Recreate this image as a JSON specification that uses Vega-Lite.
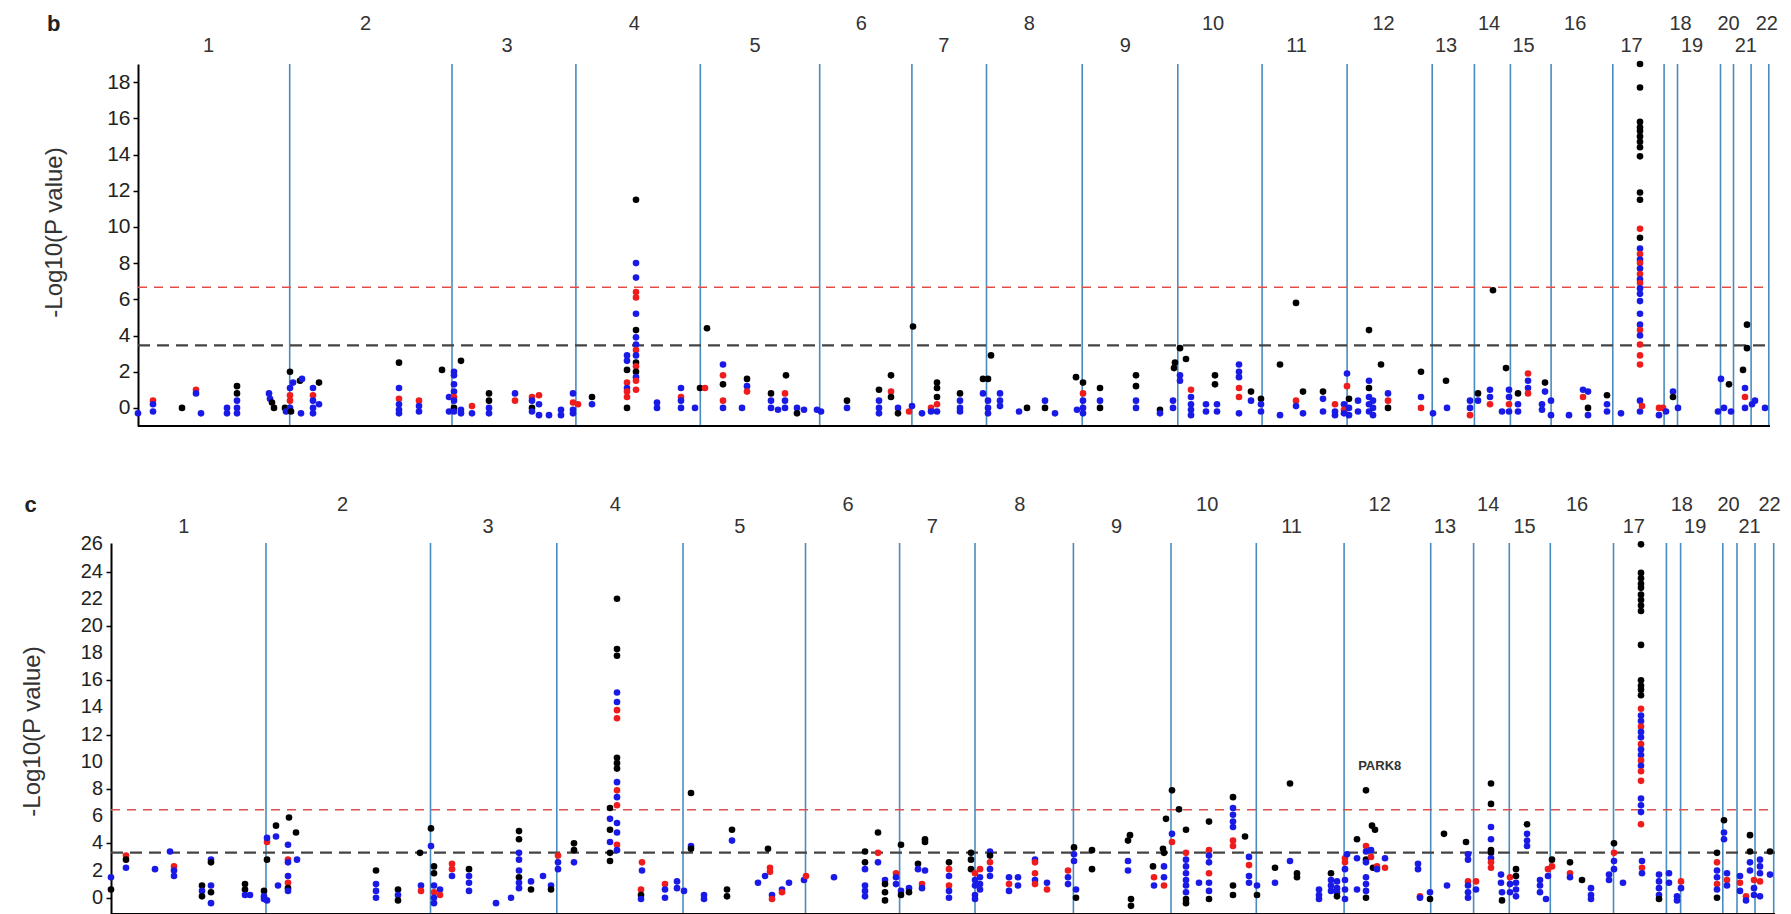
{
  "$schema": "https://vega.github.io/schema/vega-lite/v6.json",
  "background": "white",
  "padding": {"left": 20, "top": 13, "right": 0, "bottom": 0},
  "spacing": 66,
  "config": {"view": {"stroke": null}, "font": "Liberation Sans", "axis": {"grid": false}},
  "resolve": {"scale": {"x": "independent", "y": "independent"}},
  "datasets": {
    "one": [{}],
    "ticksC": [{"v":0},{"v":2},{"v":4},{"v":6},{"v":8},{"v":10},{"v":12},{"v":14},{"v":16},{"v":18},{"v":20},{"v":22},{"v":24},{"v":26}],
    "linesB": [{"pos":289.7},{"pos":452},{"pos":575.9},{"pos":700.3},{"pos":819.7},{"pos":911.9},{"pos":986.5},{"pos":1082.2},{"pos":1177.8},{"pos":1262.1},{"pos":1347.1},{"pos":1432.2},{"pos":1474.4},{"pos":1510.4},{"pos":1551.1},{"pos":1612.8},{"pos":1664.1},{"pos":1677.5},{"pos":1720.5},{"pos":1733.5},{"pos":1751.1},{"pos":1768.8}],
    "linesC": [{"pos":266},{"pos":430.5},{"pos":556.8},{"pos":683},{"pos":805.5},{"pos":899.6},{"pos":975},{"pos":1073.4},{"pos":1171},{"pos":1256.3},{"pos":1344.1},{"pos":1430.7},{"pos":1473.6},{"pos":1509.3},{"pos":1550.3},{"pos":1613.5},{"pos":1666.4},{"pos":1680.6},{"pos":1722.8},{"pos":1737},{"pos":1755},{"pos":1773.7}],
    "labB": [{"chr":"1","pos":208.6,"tier":"lower"},{"chr":"2","pos":365.5,"tier":"upper"},{"chr":"3","pos":507,"tier":"lower"},{"chr":"4","pos":634.4,"tier":"upper"},{"chr":"5","pos":755,"tier":"lower"},{"chr":"6","pos":861.4,"tier":"upper"},{"chr":"7","pos":943.7,"tier":"lower"},{"chr":"8","pos":1029.4,"tier":"upper"},{"chr":"9","pos":1125.4,"tier":"lower"},{"chr":"10","pos":1213,"tier":"upper"},{"chr":"11","pos":1296.6,"tier":"lower"},{"chr":"12","pos":1383.6,"tier":"upper"},{"chr":"13","pos":1446,"tier":"lower"},{"chr":"14","pos":1489,"tier":"upper"},{"chr":"15","pos":1523.5,"tier":"lower"},{"chr":"16","pos":1575.2,"tier":"upper"},{"chr":"17","pos":1631.5,"tier":"lower"},{"chr":"18","pos":1680.6,"tier":"upper"},{"chr":"19","pos":1692.1,"tier":"lower"},{"chr":"20","pos":1728.5,"tier":"upper"},{"chr":"21","pos":1745.8,"tier":"lower"},{"chr":"22","pos":1766.8,"tier":"upper"}],
    "labC": [{"chr":"1","pos":183.7,"tier":"lower"},{"chr":"2","pos":342.5,"tier":"upper"},{"chr":"3","pos":488,"tier":"lower"},{"chr":"4","pos":615.3,"tier":"upper"},{"chr":"5","pos":739.7,"tier":"lower"},{"chr":"6","pos":848,"tier":"upper"},{"chr":"7","pos":932.2,"tier":"lower"},{"chr":"8","pos":1019.8,"tier":"upper"},{"chr":"9","pos":1116.6,"tier":"lower"},{"chr":"10","pos":1207.2,"tier":"upper"},{"chr":"11","pos":1291.6,"tier":"lower"},{"chr":"12","pos":1379.7,"tier":"upper"},{"chr":"13","pos":1444.9,"tier":"lower"},{"chr":"14","pos":1488.2,"tier":"upper"},{"chr":"15","pos":1524.6,"tier":"lower"},{"chr":"16","pos":1577.1,"tier":"upper"},{"chr":"17","pos":1633.8,"tier":"lower"},{"chr":"18","pos":1681.8,"tier":"upper"},{"chr":"19","pos":1695.2,"tier":"lower"},{"chr":"20","pos":1728.5,"tier":"upper"},{"chr":"21","pos":1749.6,"tier":"lower"},{"chr":"22","pos":1769.5,"tier":"upper"}],
    "ptsB": [
      {"pos":138,"logp":-0.3,"set":"blue"},{"pos":153,"logp":0.4,"set":"red"},{"pos":153,"logp":0.2,"set":"blue"},{"pos":153,"logp":-0.2,"set":"blue"},{"pos":182,"logp":0.0,"set":"black"},{"pos":196,"logp":1.0,"set":"red"},{"pos":196,"logp":0.8,"set":"blue"},{"pos":201,"logp":-0.3,"set":"blue"},{"pos":227,"logp":0.0,"set":"blue"},{"pos":227,"logp":-0.3,"set":"blue"},
      {"pos":237,"logp":1.2,"set":"black"},{"pos":237,"logp":0.8,"set":"black"},{"pos":237,"logp":0.4,"set":"blue"},{"pos":237,"logp":0.0,"set":"blue"},{"pos":237,"logp":-0.3,"set":"blue"},{"pos":269,"logp":0.8,"set":"blue"},{"pos":270,"logp":0.5,"set":"blue"},{"pos":272,"logp":0.3,"set":"black"},{"pos":274,"logp":0.0,"set":"black"},{"pos":285,"logp":0.0,"set":"black"},
      {"pos":286,"logp":-0.2,"set":"blue"},{"pos":290,"logp":2.0,"set":"black"},{"pos":290,"logp":1.1,"set":"blue"},{"pos":290,"logp":0.7,"set":"red"},{"pos":290,"logp":0.4,"set":"red"},{"pos":290,"logp":0.0,"set":"blue"},{"pos":291,"logp":-0.2,"set":"black"},{"pos":293,"logp":1.4,"set":"blue"},{"pos":300,"logp":1.5,"set":"black"},{"pos":302,"logp":1.6,"set":"blue"},
      {"pos":301,"logp":-0.3,"set":"blue"},{"pos":313,"logp":1.1,"set":"blue"},{"pos":313,"logp":0.7,"set":"red"},{"pos":313,"logp":0.4,"set":"blue"},{"pos":313,"logp":0.0,"set":"blue"},{"pos":313,"logp":-0.3,"set":"blue"},{"pos":319,"logp":1.4,"set":"black"},{"pos":319,"logp":0.2,"set":"blue"},
      {"pos":399,"logp":2.5,"set":"black"},{"pos":399,"logp":1.1,"set":"blue"},{"pos":399,"logp":0.5,"set":"red"},{"pos":399,"logp":0.2,"set":"blue"},{"pos":399,"logp":-0.1,"set":"blue"},{"pos":399,"logp":-0.3,"set":"blue"},{"pos":419,"logp":0.4,"set":"red"},{"pos":419,"logp":0.1,"set":"blue"},{"pos":419,"logp":-0.2,"set":"blue"},{"pos":442,"logp":2.1,"set":"black"},
      {"pos":449,"logp":0.6,"set":"blue"},{"pos":449,"logp":-0.2,"set":"blue"},{"pos":454,"logp":2.0,"set":"blue"},{"pos":454,"logp":1.8,"set":"blue"},{"pos":454,"logp":1.3,"set":"blue"},{"pos":454,"logp":0.9,"set":"blue"},{"pos":454,"logp":0.6,"set":"red"},{"pos":454,"logp":0.4,"set":"blue"},{"pos":454,"logp":0.0,"set":"black"},{"pos":454,"logp":-0.2,"set":"blue"},
      {"pos":461,"logp":2.6,"set":"black"},{"pos":461,"logp":-0.1,"set":"blue"},{"pos":461,"logp":-0.3,"set":"blue"},{"pos":472,"logp":0.1,"set":"red"},{"pos":472,"logp":-0.3,"set":"blue"},{"pos":489,"logp":0.8,"set":"black"},{"pos":489,"logp":0.4,"set":"black"},{"pos":489,"logp":0.0,"set":"blue"},{"pos":489,"logp":-0.3,"set":"blue"},
      {"pos":515,"logp":0.8,"set":"blue"},{"pos":515,"logp":0.4,"set":"red"},{"pos":532,"logp":0.6,"set":"red"},{"pos":532,"logp":0.4,"set":"blue"},{"pos":532,"logp":0.0,"set":"black"},{"pos":532,"logp":-0.2,"set":"blue"},{"pos":539,"logp":0.7,"set":"red"},{"pos":539,"logp":0.2,"set":"blue"},{"pos":539,"logp":-0.4,"set":"blue"},{"pos":549,"logp":-0.4,"set":"blue"},
      {"pos":561,"logp":-0.1,"set":"blue"},{"pos":561,"logp":-0.4,"set":"blue"},{"pos":573,"logp":0.8,"set":"blue"},{"pos":573,"logp":0.3,"set":"red"},{"pos":573,"logp":-0.1,"set":"blue"},{"pos":573,"logp":-0.3,"set":"blue"},{"pos":578,"logp":0.2,"set":"red"},{"pos":592,"logp":0.6,"set":"black"},{"pos":592,"logp":0.2,"set":"blue"},
      {"pos":627,"logp":2.9,"set":"blue"},{"pos":627,"logp":2.6,"set":"blue"},{"pos":627,"logp":2.1,"set":"black"},{"pos":627,"logp":1.4,"set":"red"},{"pos":627,"logp":1.1,"set":"blue"},{"pos":627,"logp":0.9,"set":"red"},{"pos":627,"logp":0.6,"set":"red"},{"pos":627,"logp":0.0,"set":"black"},
      {"pos":636,"logp":11.5,"set":"black"},{"pos":636,"logp":8.0,"set":"blue"},{"pos":636,"logp":7.2,"set":"blue"},{"pos":636,"logp":6.4,"set":"red"},{"pos":636,"logp":6.1,"set":"red"},{"pos":636,"logp":5.2,"set":"blue"},{"pos":636,"logp":4.3,"set":"black"},{"pos":636,"logp":3.9,"set":"blue"},{"pos":636,"logp":3.5,"set":"blue"},{"pos":636,"logp":3.2,"set":"red"},{"pos":636,"logp":2.9,"set":"blue"},{"pos":636,"logp":2.5,"set":"black"},{"pos":636,"logp":2.3,"set":"red"},{"pos":636,"logp":2.0,"set":"black"},{"pos":636,"logp":1.7,"set":"blue"},{"pos":636,"logp":1.5,"set":"red"},{"pos":636,"logp":1.0,"set":"red"},
      {"pos":657,"logp":0.3,"set":"blue"},{"pos":657,"logp":0.0,"set":"blue"},{"pos":681,"logp":1.1,"set":"blue"},{"pos":681,"logp":0.6,"set":"red"},{"pos":681,"logp":0.4,"set":"blue"},{"pos":681,"logp":0.0,"set":"blue"},{"pos":695,"logp":0.0,"set":"blue"},{"pos":700,"logp":1.1,"set":"black"},{"pos":705,"logp":1.1,"set":"red"},{"pos":707,"logp":4.4,"set":"black"},
      {"pos":723,"logp":2.4,"set":"blue"},{"pos":723,"logp":1.8,"set":"red"},{"pos":723,"logp":1.3,"set":"black"},{"pos":723,"logp":0.4,"set":"red"},{"pos":723,"logp":0.0,"set":"blue"},{"pos":742,"logp":0.0,"set":"blue"},{"pos":747,"logp":1.6,"set":"black"},{"pos":747,"logp":1.2,"set":"blue"},{"pos":747,"logp":0.9,"set":"red"},
      {"pos":771,"logp":0.8,"set":"black"},{"pos":771,"logp":0.4,"set":"blue"},{"pos":771,"logp":0.0,"set":"blue"},{"pos":786,"logp":1.8,"set":"black"},{"pos":785,"logp":0.8,"set":"red"},{"pos":785,"logp":0.4,"set":"blue"},{"pos":785,"logp":0.0,"set":"blue"},{"pos":778,"logp":-0.1,"set":"blue"},{"pos":797,"logp":0.0,"set":"blue"},{"pos":797,"logp":-0.3,"set":"black"},{"pos":804,"logp":-0.1,"set":"blue"},{"pos":817,"logp":-0.1,"set":"blue"},{"pos":821,"logp":-0.2,"set":"blue"},
      {"pos":847,"logp":0.4,"set":"black"},{"pos":847,"logp":0.0,"set":"blue"},{"pos":879,"logp":1.0,"set":"black"},{"pos":879,"logp":0.4,"set":"blue"},{"pos":879,"logp":0.0,"set":"blue"},{"pos":879,"logp":-0.3,"set":"blue"},{"pos":891,"logp":1.8,"set":"black"},{"pos":891,"logp":0.9,"set":"red"},{"pos":891,"logp":0.6,"set":"black"},{"pos":898,"logp":0.0,"set":"blue"},{"pos":898,"logp":-0.3,"set":"black"},{"pos":909,"logp":-0.2,"set":"red"},{"pos":912,"logp":0.1,"set":"blue"},{"pos":913,"logp":4.5,"set":"black"},
      {"pos":922,"logp":-0.3,"set":"blue"},{"pos":931,"logp":0.0,"set":"red"},{"pos":931,"logp":-0.2,"set":"blue"},{"pos":937,"logp":1.4,"set":"black"},{"pos":937,"logp":1.1,"set":"black"},{"pos":937,"logp":0.6,"set":"black"},{"pos":937,"logp":0.2,"set":"red"},{"pos":937,"logp":-0.2,"set":"blue"},{"pos":960,"logp":0.8,"set":"black"},{"pos":960,"logp":0.4,"set":"blue"},{"pos":960,"logp":0.0,"set":"blue"},{"pos":960,"logp":-0.2,"set":"blue"},
      {"pos":983,"logp":1.6,"set":"black"},{"pos":983,"logp":0.8,"set":"blue"},{"pos":988,"logp":1.6,"set":"black"},{"pos":991,"logp":2.9,"set":"black"},{"pos":988,"logp":0.4,"set":"blue"},{"pos":988,"logp":0.0,"set":"blue"},{"pos":988,"logp":-0.3,"set":"blue"},{"pos":1000,"logp":0.8,"set":"blue"},{"pos":1000,"logp":0.4,"set":"blue"},{"pos":1000,"logp":0.1,"set":"blue"},
      {"pos":1019,"logp":-0.2,"set":"blue"},{"pos":1027,"logp":0.0,"set":"black"},{"pos":1045,"logp":0.4,"set":"blue"},{"pos":1045,"logp":0.0,"set":"black"},{"pos":1055,"logp":-0.3,"set":"blue"},{"pos":1076,"logp":1.7,"set":"black"},{"pos":1077,"logp":-0.1,"set":"blue"},{"pos":1083,"logp":1.4,"set":"black"},{"pos":1083,"logp":0.8,"set":"red"},{"pos":1083,"logp":0.4,"set":"blue"},{"pos":1083,"logp":0.0,"set":"blue"},{"pos":1083,"logp":-0.3,"set":"blue"},
      {"pos":1100,"logp":1.1,"set":"black"},{"pos":1100,"logp":0.4,"set":"blue"},{"pos":1100,"logp":0.0,"set":"black"},{"pos":1136,"logp":1.8,"set":"black"},{"pos":1136,"logp":1.2,"set":"black"},{"pos":1136,"logp":0.4,"set":"blue"},{"pos":1136,"logp":0.0,"set":"blue"},{"pos":1160,"logp":-0.1,"set":"black"},{"pos":1160,"logp":-0.3,"set":"blue"},{"pos":1173,"logp":0.4,"set":"blue"},{"pos":1173,"logp":0.0,"set":"blue"},{"pos":1174,"logp":2.2,"set":"black"},
      {"pos":1180,"logp":3.3,"set":"black"},{"pos":1175,"logp":2.5,"set":"black"},{"pos":1186,"logp":2.7,"set":"black"},{"pos":1180,"logp":1.8,"set":"blue"},{"pos":1180,"logp":1.5,"set":"blue"},{"pos":1191,"logp":1.0,"set":"red"},{"pos":1191,"logp":0.6,"set":"blue"},{"pos":1191,"logp":0.2,"set":"blue"},{"pos":1191,"logp":-0.1,"set":"blue"},{"pos":1191,"logp":-0.4,"set":"blue"},
      {"pos":1206,"logp":0.2,"set":"blue"},{"pos":1206,"logp":-0.2,"set":"blue"},{"pos":1215,"logp":1.8,"set":"black"},{"pos":1215,"logp":1.3,"set":"black"},{"pos":1217,"logp":0.2,"set":"blue"},{"pos":1217,"logp":-0.2,"set":"blue"},{"pos":1239,"logp":2.4,"set":"blue"},{"pos":1239,"logp":2.0,"set":"blue"},{"pos":1239,"logp":1.7,"set":"blue"},{"pos":1239,"logp":1.1,"set":"red"},{"pos":1239,"logp":0.6,"set":"red"},{"pos":1239,"logp":-0.3,"set":"blue"},
      {"pos":1251,"logp":0.9,"set":"black"},{"pos":1251,"logp":0.4,"set":"blue"},{"pos":1261,"logp":0.5,"set":"black"},{"pos":1261,"logp":0.2,"set":"blue"},{"pos":1261,"logp":-0.2,"set":"blue"},
      {"pos":1280,"logp":2.4,"set":"black"},{"pos":1280,"logp":-0.4,"set":"blue"},{"pos":1296,"logp":5.8,"set":"black"},{"pos":1296,"logp":0.4,"set":"red"},{"pos":1296,"logp":0.1,"set":"blue"},{"pos":1303,"logp":0.9,"set":"black"},{"pos":1303,"logp":-0.3,"set":"blue"},{"pos":1323,"logp":0.9,"set":"black"},{"pos":1323,"logp":0.5,"set":"blue"},{"pos":1323,"logp":-0.2,"set":"blue"},
      {"pos":1335,"logp":0.2,"set":"red"},{"pos":1335,"logp":-0.2,"set":"blue"},{"pos":1335,"logp":-0.4,"set":"blue"},{"pos":1344,"logp":0.2,"set":"blue"},{"pos":1344,"logp":-0.1,"set":"red"},{"pos":1344,"logp":-0.3,"set":"blue"},
      {"pos":1347,"logp":1.9,"set":"blue"},{"pos":1347,"logp":1.2,"set":"red"},{"pos":1349,"logp":0.5,"set":"black"},{"pos":1349,"logp":0.0,"set":"blue"},{"pos":1349,"logp":-0.4,"set":"blue"},{"pos":1358,"logp":0.4,"set":"blue"},{"pos":1358,"logp":-0.2,"set":"blue"},{"pos":1369,"logp":4.3,"set":"black"},{"pos":1369,"logp":1.5,"set":"blue"},{"pos":1369,"logp":1.1,"set":"black"},{"pos":1369,"logp":0.6,"set":"blue"},{"pos":1369,"logp":0.2,"set":"blue"},{"pos":1369,"logp":-0.2,"set":"blue"},
      {"pos":1373,"logp":0.4,"set":"blue"},{"pos":1373,"logp":0.0,"set":"blue"},{"pos":1373,"logp":-0.4,"set":"blue"},{"pos":1381,"logp":2.4,"set":"black"},{"pos":1388,"logp":0.8,"set":"blue"},{"pos":1388,"logp":0.4,"set":"red"},{"pos":1388,"logp":0.0,"set":"black"},
      {"pos":1421,"logp":2.0,"set":"black"},{"pos":1421,"logp":0.6,"set":"blue"},{"pos":1421,"logp":0.0,"set":"red"},{"pos":1433,"logp":-0.3,"set":"blue"},{"pos":1446,"logp":1.5,"set":"black"},{"pos":1447,"logp":0.0,"set":"blue"},
      {"pos":1470,"logp":0.4,"set":"blue"},{"pos":1470,"logp":0.0,"set":"blue"},{"pos":1470,"logp":-0.4,"set":"red"},{"pos":1478,"logp":0.8,"set":"black"},{"pos":1478,"logp":0.4,"set":"blue"},{"pos":1490,"logp":1.0,"set":"blue"},{"pos":1490,"logp":0.6,"set":"blue"},{"pos":1490,"logp":0.2,"set":"red"},{"pos":1493,"logp":6.5,"set":"black"},{"pos":1502,"logp":-0.2,"set":"blue"},{"pos":1506,"logp":2.2,"set":"black"},
      {"pos":1509,"logp":1.0,"set":"blue"},{"pos":1509,"logp":0.6,"set":"blue"},{"pos":1509,"logp":0.2,"set":"red"},{"pos":1509,"logp":-0.2,"set":"blue"},{"pos":1518,"logp":0.8,"set":"black"},{"pos":1518,"logp":0.2,"set":"blue"},{"pos":1518,"logp":-0.2,"set":"blue"},{"pos":1528,"logp":1.9,"set":"red"},{"pos":1528,"logp":1.5,"set":"blue"},{"pos":1528,"logp":1.1,"set":"blue"},{"pos":1528,"logp":0.8,"set":"red"},
      {"pos":1542,"logp":0.2,"set":"blue"},{"pos":1542,"logp":-0.1,"set":"blue"},{"pos":1545,"logp":1.4,"set":"black"},{"pos":1545,"logp":0.9,"set":"blue"},{"pos":1551,"logp":0.4,"set":"blue"},{"pos":1551,"logp":-0.4,"set":"blue"},{"pos":1569,"logp":-0.4,"set":"blue"},{"pos":1583,"logp":1.0,"set":"blue"},{"pos":1583,"logp":0.6,"set":"red"},{"pos":1588,"logp":0.9,"set":"blue"},{"pos":1588,"logp":0.0,"set":"black"},{"pos":1588,"logp":-0.4,"set":"blue"},
      {"pos":1607,"logp":0.7,"set":"black"},{"pos":1607,"logp":0.2,"set":"blue"},{"pos":1607,"logp":-0.2,"set":"blue"},{"pos":1621,"logp":-0.3,"set":"blue"},{"pos":1640,"logp":0.4,"set":"blue"},{"pos":1640,"logp":-0.2,"set":"blue"},{"pos":1642,"logp":0.1,"set":"red"},
      {"pos":1640,"logp":19.0,"set":"black"},{"pos":1640,"logp":17.7,"set":"black"},{"pos":1640,"logp":15.8,"set":"black"},{"pos":1640,"logp":15.5,"set":"black"},{"pos":1640,"logp":15.3,"set":"black"},{"pos":1640,"logp":15.0,"set":"black"},{"pos":1640,"logp":14.7,"set":"black"},{"pos":1640,"logp":14.4,"set":"black"},{"pos":1640,"logp":13.9,"set":"black"},{"pos":1640,"logp":11.9,"set":"black"},{"pos":1640,"logp":11.5,"set":"black"},
      {"pos":1640,"logp":9.9,"set":"red"},{"pos":1640,"logp":9.4,"set":"black"},{"pos":1640,"logp":8.8,"set":"blue"},{"pos":1640,"logp":8.5,"set":"red"},{"pos":1640,"logp":8.2,"set":"blue"},{"pos":1640,"logp":8.0,"set":"red"},{"pos":1640,"logp":7.7,"set":"blue"},{"pos":1640,"logp":7.4,"set":"red"},{"pos":1640,"logp":7.1,"set":"blue"},{"pos":1640,"logp":6.9,"set":"red"},{"pos":1640,"logp":6.6,"set":"blue"},{"pos":1640,"logp":6.3,"set":"blue"},{"pos":1640,"logp":5.9,"set":"blue"},{"pos":1640,"logp":5.2,"set":"blue"},{"pos":1640,"logp":4.6,"set":"blue"},{"pos":1640,"logp":4.3,"set":"red"},{"pos":1640,"logp":4.0,"set":"blue"},{"pos":1640,"logp":3.5,"set":"red"},{"pos":1640,"logp":2.9,"set":"red"},{"pos":1640,"logp":2.4,"set":"red"},
      {"pos":1659,"logp":0.0,"set":"red"},{"pos":1659,"logp":-0.4,"set":"blue"},{"pos":1663,"logp":0.0,"set":"red"},{"pos":1666,"logp":-0.2,"set":"blue"},{"pos":1673,"logp":0.9,"set":"blue"},{"pos":1673,"logp":0.6,"set":"black"},{"pos":1678,"logp":0.0,"set":"blue"},
      {"pos":1718,"logp":-0.2,"set":"blue"},{"pos":1721,"logp":1.6,"set":"blue"},{"pos":1724,"logp":0.0,"set":"blue"},{"pos":1729,"logp":1.3,"set":"black"},{"pos":1731,"logp":-0.2,"set":"blue"},{"pos":1743,"logp":2.1,"set":"black"},{"pos":1745,"logp":1.1,"set":"blue"},{"pos":1745,"logp":0.6,"set":"red"},{"pos":1745,"logp":0.0,"set":"blue"},{"pos":1747,"logp":4.6,"set":"black"},{"pos":1747,"logp":3.3,"set":"black"},{"pos":1752,"logp":0.2,"set":"blue"},{"pos":1755,"logp":0.4,"set":"blue"},{"pos":1765,"logp":0.0,"set":"blue"}
    ],
    "ptsC": [
      {"pos":111,"logp":1.5,"set":"blue"},{"pos":111,"logp":0.6,"set":"black"},{"pos":126,"logp":3.1,"set":"red"},{"pos":126,"logp":2.8,"set":"black"},{"pos":126,"logp":2.2,"set":"blue"},{"pos":155,"logp":2.1,"set":"blue"},{"pos":170,"logp":3.4,"set":"blue"},{"pos":174,"logp":2.3,"set":"red"},{"pos":174,"logp":2.0,"set":"blue"},{"pos":174,"logp":1.6,"set":"blue"},
      {"pos":202,"logp":0.9,"set":"black"},{"pos":202,"logp":0.5,"set":"blue"},{"pos":202,"logp":0.1,"set":"black"},{"pos":211,"logp":2.8,"set":"blue"},{"pos":211,"logp":2.6,"set":"black"},{"pos":211,"logp":0.9,"set":"blue"},{"pos":211,"logp":0.4,"set":"black"},{"pos":211,"logp":-0.4,"set":"blue"},{"pos":245,"logp":1.0,"set":"black"},{"pos":245,"logp":0.6,"set":"black"},{"pos":245,"logp":0.2,"set":"blue"},{"pos":250,"logp":0.2,"set":"blue"},
      {"pos":264,"logp":0.5,"set":"black"},{"pos":264,"logp":0.1,"set":"blue"},{"pos":264,"logp":-0.1,"set":"blue"},{"pos":267,"logp":-0.2,"set":"blue"},{"pos":267,"logp":2.8,"set":"black"},{"pos":267,"logp":4.1,"set":"red"},{"pos":267,"logp":4.4,"set":"blue"},{"pos":276,"logp":5.3,"set":"black"},{"pos":276,"logp":4.5,"set":"blue"},{"pos":278,"logp":0.9,"set":"blue"},
      {"pos":289,"logp":5.9,"set":"black"},{"pos":288,"logp":3.9,"set":"blue"},{"pos":288,"logp":2.8,"set":"red"},{"pos":288,"logp":2.6,"set":"blue"},{"pos":288,"logp":1.6,"set":"blue"},{"pos":288,"logp":1.1,"set":"red"},{"pos":288,"logp":0.7,"set":"black"},{"pos":288,"logp":0.5,"set":"blue"},{"pos":296,"logp":4.8,"set":"black"},{"pos":297,"logp":2.8,"set":"blue"},
      {"pos":376,"logp":2.0,"set":"black"},{"pos":376,"logp":1.0,"set":"blue"},{"pos":376,"logp":0.5,"set":"blue"},{"pos":376,"logp":0.0,"set":"blue"},{"pos":398,"logp":0.6,"set":"black"},{"pos":398,"logp":0.2,"set":"blue"},{"pos":398,"logp":-0.2,"set":"black"},{"pos":420,"logp":3.3,"set":"black"},{"pos":421,"logp":0.9,"set":"blue"},{"pos":421,"logp":0.5,"set":"red"},{"pos":431,"logp":5.1,"set":"black"},{"pos":431,"logp":3.8,"set":"blue"},
      {"pos":434,"logp":2.3,"set":"black"},{"pos":434,"logp":1.8,"set":"black"},{"pos":434,"logp":0.9,"set":"blue"},{"pos":434,"logp":0.4,"set":"red"},{"pos":434,"logp":0.0,"set":"blue"},{"pos":434,"logp":-0.4,"set":"blue"},{"pos":440,"logp":0.6,"set":"blue"},{"pos":440,"logp":0.2,"set":"red"},{"pos":452,"logp":2.5,"set":"red"},{"pos":452,"logp":2.1,"set":"red"},{"pos":452,"logp":1.6,"set":"blue"},
      {"pos":469,"logp":2.1,"set":"black"},{"pos":469,"logp":1.6,"set":"blue"},{"pos":469,"logp":1.1,"set":"blue"},{"pos":469,"logp":0.5,"set":"blue"},{"pos":496,"logp":-0.4,"set":"blue"},{"pos":511,"logp":0.0,"set":"blue"},
      {"pos":519,"logp":4.9,"set":"black"},{"pos":519,"logp":4.3,"set":"black"},{"pos":519,"logp":3.3,"set":"blue"},{"pos":519,"logp":2.8,"set":"blue"},{"pos":519,"logp":2.0,"set":"blue"},{"pos":519,"logp":1.5,"set":"black"},{"pos":519,"logp":1.1,"set":"blue"},{"pos":519,"logp":0.7,"set":"blue"},{"pos":531,"logp":1.2,"set":"blue"},{"pos":531,"logp":0.6,"set":"black"},{"pos":543,"logp":1.6,"set":"blue"},{"pos":551,"logp":0.9,"set":"blue"},{"pos":551,"logp":0.6,"set":"black"},
      {"pos":558,"logp":3.1,"set":"red"},{"pos":558,"logp":2.6,"set":"blue"},{"pos":558,"logp":2.1,"set":"blue"},{"pos":574,"logp":4.0,"set":"black"},{"pos":574,"logp":3.5,"set":"black"},{"pos":574,"logp":2.6,"set":"blue"},
      {"pos":610,"logp":6.6,"set":"black"},{"pos":610,"logp":5.8,"set":"blue"},{"pos":610,"logp":5.0,"set":"black"},{"pos":610,"logp":4.1,"set":"blue"},{"pos":610,"logp":3.3,"set":"black"},{"pos":610,"logp":2.7,"set":"black"},
      {"pos":617,"logp":22.0,"set":"black"},{"pos":617,"logp":18.3,"set":"black"},{"pos":617,"logp":17.8,"set":"black"},{"pos":617,"logp":15.1,"set":"blue"},{"pos":617,"logp":14.4,"set":"blue"},{"pos":617,"logp":13.8,"set":"red"},{"pos":617,"logp":13.2,"set":"red"},{"pos":617,"logp":10.3,"set":"black"},{"pos":617,"logp":9.9,"set":"black"},{"pos":617,"logp":9.5,"set":"black"},{"pos":617,"logp":8.5,"set":"blue"},{"pos":617,"logp":7.9,"set":"red"},{"pos":617,"logp":7.4,"set":"blue"},{"pos":617,"logp":6.8,"set":"red"},{"pos":617,"logp":5.5,"set":"blue"},{"pos":617,"logp":4.8,"set":"blue"},{"pos":617,"logp":3.9,"set":"red"},{"pos":617,"logp":3.5,"set":"blue"},
      {"pos":642,"logp":2.6,"set":"red"},{"pos":642,"logp":2.0,"set":"blue"},{"pos":641,"logp":0.6,"set":"red"},{"pos":641,"logp":0.2,"set":"black"},{"pos":641,"logp":-0.1,"set":"blue"},{"pos":665,"logp":1.0,"set":"red"},{"pos":665,"logp":0.6,"set":"blue"},{"pos":665,"logp":0.0,"set":"blue"},{"pos":677,"logp":1.2,"set":"blue"},{"pos":677,"logp":0.7,"set":"blue"},{"pos":684,"logp":0.5,"set":"blue"},
      {"pos":691,"logp":7.7,"set":"black"},{"pos":691,"logp":3.8,"set":"blue"},{"pos":691,"logp":3.6,"set":"black"},{"pos":704,"logp":0.2,"set":"blue"},{"pos":704,"logp":-0.1,"set":"blue"},{"pos":727,"logp":0.6,"set":"black"},{"pos":727,"logp":0.1,"set":"black"},{"pos":732,"logp":5.0,"set":"black"},{"pos":732,"logp":4.2,"set":"blue"},
      {"pos":758,"logp":1.1,"set":"blue"},{"pos":765,"logp":1.6,"set":"blue"},{"pos":768,"logp":3.6,"set":"black"},{"pos":770,"logp":2.2,"set":"red"},{"pos":770,"logp":1.9,"set":"red"},{"pos":772,"logp":0.2,"set":"blue"},{"pos":772,"logp":-0.1,"set":"red"},{"pos":782,"logp":0.6,"set":"blue"},{"pos":782,"logp":0.4,"set":"red"},{"pos":789,"logp":1.1,"set":"blue"},{"pos":804,"logp":1.3,"set":"blue"},{"pos":806,"logp":1.6,"set":"red"},
      {"pos":834,"logp":1.5,"set":"blue"},{"pos":865,"logp":3.4,"set":"black"},{"pos":865,"logp":2.6,"set":"black"},{"pos":865,"logp":2.1,"set":"blue"},{"pos":865,"logp":0.9,"set":"blue"},{"pos":865,"logp":0.5,"set":"blue"},{"pos":865,"logp":0.1,"set":"blue"},{"pos":878,"logp":4.8,"set":"black"},{"pos":878,"logp":3.3,"set":"red"},{"pos":878,"logp":2.6,"set":"blue"},
      {"pos":885,"logp":1.3,"set":"blue"},{"pos":885,"logp":1.0,"set":"black"},{"pos":885,"logp":0.4,"set":"black"},{"pos":885,"logp":-0.2,"set":"black"},{"pos":896,"logp":1.8,"set":"red"},{"pos":896,"logp":1.5,"set":"blue"},{"pos":896,"logp":1.0,"set":"blue"},{"pos":901,"logp":3.9,"set":"black"},{"pos":901,"logp":0.5,"set":"blue"},{"pos":901,"logp":0.2,"set":"black"},
      {"pos":909,"logp":0.7,"set":"blue"},{"pos":909,"logp":0.4,"set":"black"},{"pos":918,"logp":2.5,"set":"black"},{"pos":918,"logp":2.1,"set":"blue"},{"pos":922,"logp":1.0,"set":"red"},{"pos":922,"logp":0.7,"set":"blue"},{"pos":925,"logp":4.3,"set":"black"},{"pos":925,"logp":4.1,"set":"black"},{"pos":925,"logp":2.0,"set":"blue"},
      {"pos":949,"logp":2.6,"set":"black"},{"pos":949,"logp":2.1,"set":"red"},{"pos":949,"logp":1.6,"set":"blue"},{"pos":949,"logp":0.9,"set":"red"},{"pos":949,"logp":0.5,"set":"blue"},{"pos":949,"logp":0.0,"set":"blue"},{"pos":971,"logp":3.3,"set":"black"},{"pos":971,"logp":2.8,"set":"black"},{"pos":971,"logp":2.1,"set":"black"},
      {"pos":975,"logp":1.8,"set":"red"},{"pos":975,"logp":1.3,"set":"blue"},{"pos":975,"logp":0.9,"set":"blue"},{"pos":975,"logp":0.2,"set":"blue"},{"pos":975,"logp":-0.1,"set":"blue"},{"pos":980,"logp":2.1,"set":"red"},{"pos":980,"logp":1.5,"set":"blue"},{"pos":980,"logp":1.0,"set":"blue"},{"pos":980,"logp":0.6,"set":"blue"},
      {"pos":990,"logp":3.4,"set":"blue"},{"pos":990,"logp":3.1,"set":"black"},{"pos":990,"logp":2.6,"set":"red"},{"pos":990,"logp":2.1,"set":"blue"},{"pos":990,"logp":1.6,"set":"blue"},{"pos":1009,"logp":1.5,"set":"blue"},{"pos":1009,"logp":1.0,"set":"red"},{"pos":1009,"logp":0.5,"set":"blue"},{"pos":1018,"logp":1.5,"set":"blue"},{"pos":1018,"logp":0.9,"set":"blue"},
      {"pos":1035,"logp":2.8,"set":"blue"},{"pos":1035,"logp":2.6,"set":"red"},{"pos":1035,"logp":1.8,"set":"red"},{"pos":1035,"logp":1.3,"set":"blue"},{"pos":1035,"logp":1.0,"set":"red"},{"pos":1047,"logp":1.1,"set":"blue"},{"pos":1047,"logp":0.6,"set":"red"},{"pos":1068,"logp":2.0,"set":"red"},{"pos":1068,"logp":1.5,"set":"blue"},{"pos":1068,"logp":1.0,"set":"blue"},
      {"pos":1074,"logp":3.7,"set":"black"},{"pos":1074,"logp":3.2,"set":"blue"},{"pos":1074,"logp":2.7,"set":"blue"},{"pos":1076,"logp":0.6,"set":"blue"},{"pos":1076,"logp":0.0,"set":"black"},{"pos":1092,"logp":3.5,"set":"black"},{"pos":1092,"logp":2.1,"set":"black"},{"pos":1128,"logp":4.2,"set":"black"},{"pos":1130,"logp":4.6,"set":"black"},{"pos":1128,"logp":2.7,"set":"blue"},{"pos":1128,"logp":2.0,"set":"blue"},{"pos":1131,"logp":-0.1,"set":"black"},{"pos":1131,"logp":-0.6,"set":"black"},
      {"pos":1153,"logp":2.3,"set":"black"},{"pos":1154,"logp":1.5,"set":"red"},{"pos":1154,"logp":0.9,"set":"blue"},
      {"pos":1163,"logp":3.6,"set":"black"},{"pos":1164,"logp":3.3,"set":"black"},{"pos":1164,"logp":2.3,"set":"blue"},{"pos":1164,"logp":1.5,"set":"blue"},{"pos":1164,"logp":0.9,"set":"red"},{"pos":1166,"logp":5.8,"set":"black"},{"pos":1172,"logp":7.9,"set":"black"},{"pos":1172,"logp":4.7,"set":"blue"},{"pos":1172,"logp":4.1,"set":"red"},{"pos":1179,"logp":6.5,"set":"black"},
      {"pos":1186,"logp":5.0,"set":"black"},{"pos":1186,"logp":3.3,"set":"red"},{"pos":1186,"logp":2.8,"set":"blue"},{"pos":1186,"logp":2.3,"set":"blue"},{"pos":1186,"logp":1.8,"set":"blue"},{"pos":1186,"logp":1.3,"set":"blue"},{"pos":1186,"logp":0.9,"set":"blue"},{"pos":1186,"logp":0.4,"set":"blue"},{"pos":1186,"logp":-0.1,"set":"black"},{"pos":1186,"logp":-0.4,"set":"black"},
      {"pos":1199,"logp":1.1,"set":"blue"},{"pos":1209,"logp":5.6,"set":"black"},{"pos":1209,"logp":3.5,"set":"red"},{"pos":1209,"logp":3.1,"set":"blue"},{"pos":1209,"logp":2.6,"set":"blue"},{"pos":1209,"logp":1.8,"set":"red"},{"pos":1209,"logp":1.1,"set":"blue"},{"pos":1209,"logp":0.5,"set":"blue"},{"pos":1209,"logp":-0.1,"set":"black"},
      {"pos":1233,"logp":7.4,"set":"black"},{"pos":1233,"logp":6.6,"set":"blue"},{"pos":1233,"logp":6.1,"set":"blue"},{"pos":1233,"logp":5.6,"set":"blue"},{"pos":1233,"logp":5.2,"set":"blue"},{"pos":1233,"logp":4.2,"set":"red"},{"pos":1233,"logp":3.8,"set":"red"},{"pos":1233,"logp":0.9,"set":"black"},{"pos":1233,"logp":0.2,"set":"black"},
      {"pos":1245,"logp":4.5,"set":"black"},{"pos":1249,"logp":3.0,"set":"blue"},{"pos":1249,"logp":2.4,"set":"red"},{"pos":1249,"logp":1.6,"set":"blue"},{"pos":1249,"logp":1.1,"set":"blue"},{"pos":1257,"logp":0.9,"set":"blue"},{"pos":1257,"logp":0.2,"set":"black"},
      {"pos":1275,"logp":2.2,"set":"black"},{"pos":1275,"logp":1.1,"set":"blue"},{"pos":1290,"logp":8.4,"set":"black"},{"pos":1290,"logp":2.7,"set":"blue"},{"pos":1297,"logp":1.8,"set":"black"},{"pos":1297,"logp":1.5,"set":"black"},{"pos":1319,"logp":0.6,"set":"blue"},{"pos":1319,"logp":0.2,"set":"blue"},{"pos":1319,"logp":-0.1,"set":"blue"},
      {"pos":1331,"logp":1.8,"set":"black"},{"pos":1331,"logp":1.3,"set":"blue"},{"pos":1331,"logp":0.9,"set":"blue"},{"pos":1331,"logp":0.5,"set":"blue"},{"pos":1337,"logp":1.2,"set":"blue"},{"pos":1337,"logp":0.7,"set":"blue"},{"pos":1337,"logp":0.4,"set":"blue"},{"pos":1337,"logp":0.1,"set":"black"},
      {"pos":1345,"logp":2.9,"set":"red"},{"pos":1345,"logp":2.6,"set":"red"},{"pos":1345,"logp":2.1,"set":"blue"},{"pos":1345,"logp":1.3,"set":"blue"},{"pos":1345,"logp":0.6,"set":"blue"},{"pos":1345,"logp":-0.1,"set":"blue"},{"pos":1347,"logp":3.2,"set":"blue"},{"pos":1357,"logp":4.3,"set":"black"},{"pos":1357,"logp":2.9,"set":"blue"},{"pos":1357,"logp":0.6,"set":"blue"},
      {"pos":1366,"logp":7.9,"set":"black"},{"pos":1366,"logp":3.8,"set":"red"},{"pos":1366,"logp":3.4,"set":"blue"},{"pos":1366,"logp":2.8,"set":"black"},{"pos":1366,"logp":2.6,"set":"blue"},{"pos":1366,"logp":1.5,"set":"blue"},{"pos":1366,"logp":1.0,"set":"blue"},{"pos":1366,"logp":0.5,"set":"blue"},{"pos":1366,"logp":0.0,"set":"black"},
      {"pos":1372,"logp":5.3,"set":"black"},{"pos":1375,"logp":5.0,"set":"black"},{"pos":1371,"logp":3.5,"set":"blue"},{"pos":1371,"logp":3.0,"set":"red"},{"pos":1373,"logp":2.2,"set":"black"},{"pos":1377,"logp":2.3,"set":"red"},{"pos":1377,"logp":2.1,"set":"blue"},{"pos":1385,"logp":2.9,"set":"blue"},{"pos":1385,"logp":2.2,"set":"red"},
      {"pos":1418,"logp":2.5,"set":"blue"},{"pos":1418,"logp":2.1,"set":"blue"},{"pos":1420,"logp":0.1,"set":"red"},{"pos":1420,"logp":0.0,"set":"blue"},{"pos":1430,"logp":0.4,"set":"blue"},{"pos":1430,"logp":-0.1,"set":"black"},{"pos":1444,"logp":4.7,"set":"black"},{"pos":1447,"logp":0.9,"set":"blue"},
      {"pos":1466,"logp":4.1,"set":"black"},{"pos":1468,"logp":3.2,"set":"blue"},{"pos":1468,"logp":2.8,"set":"blue"},{"pos":1468,"logp":1.2,"set":"red"},{"pos":1468,"logp":0.9,"set":"blue"},{"pos":1468,"logp":0.4,"set":"blue"},{"pos":1468,"logp":0.0,"set":"blue"},{"pos":1476,"logp":1.2,"set":"red"},{"pos":1476,"logp":0.6,"set":"blue"},
      {"pos":1491,"logp":8.4,"set":"black"},{"pos":1491,"logp":6.9,"set":"black"},{"pos":1491,"logp":5.2,"set":"blue"},{"pos":1491,"logp":4.3,"set":"blue"},{"pos":1491,"logp":3.5,"set":"black"},{"pos":1491,"logp":3.3,"set":"black"},{"pos":1491,"logp":2.9,"set":"blue"},{"pos":1491,"logp":2.6,"set":"red"},{"pos":1491,"logp":2.2,"set":"red"},
      {"pos":1501,"logp":1.7,"set":"blue"},{"pos":1501,"logp":1.1,"set":"blue"},{"pos":1502,"logp":0.4,"set":"blue"},{"pos":1502,"logp":-0.2,"set":"black"},{"pos":1510,"logp":1.5,"set":"red"},{"pos":1510,"logp":1.0,"set":"blue"},{"pos":1510,"logp":0.4,"set":"blue"},
      {"pos":1516,"logp":2.1,"set":"black"},{"pos":1516,"logp":1.6,"set":"black"},{"pos":1516,"logp":1.1,"set":"blue"},{"pos":1516,"logp":0.6,"set":"blue"},{"pos":1516,"logp":0.1,"set":"blue"},{"pos":1527,"logp":5.4,"set":"black"},{"pos":1527,"logp":4.7,"set":"blue"},{"pos":1527,"logp":4.2,"set":"blue"},{"pos":1527,"logp":3.8,"set":"blue"},
      {"pos":1540,"logp":1.3,"set":"blue"},{"pos":1540,"logp":0.9,"set":"blue"},{"pos":1540,"logp":0.4,"set":"blue"},{"pos":1546,"logp":-0.1,"set":"blue"},{"pos":1548,"logp":2.1,"set":"red"},{"pos":1548,"logp":1.6,"set":"blue"},{"pos":1552,"logp":2.8,"set":"black"},{"pos":1552,"logp":2.3,"set":"red"},
      {"pos":1570,"logp":2.6,"set":"black"},{"pos":1570,"logp":1.8,"set":"red"},{"pos":1570,"logp":1.5,"set":"blue"},{"pos":1582,"logp":1.3,"set":"black"},{"pos":1591,"logp":0.7,"set":"blue"},{"pos":1591,"logp":0.2,"set":"blue"},{"pos":1591,"logp":-0.1,"set":"blue"},{"pos":1609,"logp":1.7,"set":"blue"},{"pos":1609,"logp":1.3,"set":"blue"},
      {"pos":1614,"logp":4.0,"set":"black"},{"pos":1614,"logp":3.3,"set":"red"},{"pos":1614,"logp":2.7,"set":"blue"},{"pos":1614,"logp":2.1,"set":"blue"},{"pos":1623,"logp":1.1,"set":"blue"},{"pos":1642,"logp":2.7,"set":"blue"},{"pos":1642,"logp":2.2,"set":"red"},{"pos":1642,"logp":1.8,"set":"blue"},
      {"pos":1641,"logp":26.0,"set":"black"},{"pos":1641,"logp":23.9,"set":"black"},{"pos":1641,"logp":23.5,"set":"black"},{"pos":1641,"logp":23.1,"set":"black"},{"pos":1641,"logp":22.8,"set":"black"},{"pos":1641,"logp":22.3,"set":"black"},{"pos":1641,"logp":21.9,"set":"black"},{"pos":1641,"logp":21.5,"set":"black"},{"pos":1641,"logp":21.1,"set":"black"},{"pos":1641,"logp":18.6,"set":"black"},
      {"pos":1641,"logp":16.0,"set":"black"},{"pos":1641,"logp":15.6,"set":"black"},{"pos":1641,"logp":15.3,"set":"black"},{"pos":1641,"logp":14.9,"set":"black"},{"pos":1641,"logp":13.9,"set":"red"},{"pos":1641,"logp":13.4,"set":"blue"},{"pos":1641,"logp":13.0,"set":"blue"},{"pos":1641,"logp":12.6,"set":"red"},{"pos":1641,"logp":12.2,"set":"blue"},{"pos":1641,"logp":11.8,"set":"blue"},
      {"pos":1641,"logp":11.3,"set":"red"},{"pos":1641,"logp":10.9,"set":"blue"},{"pos":1641,"logp":10.5,"set":"blue"},{"pos":1641,"logp":10.1,"set":"red"},{"pos":1641,"logp":9.7,"set":"blue"},{"pos":1641,"logp":9.3,"set":"red"},{"pos":1641,"logp":8.6,"set":"red"},{"pos":1641,"logp":7.3,"set":"blue"},{"pos":1641,"logp":6.8,"set":"blue"},{"pos":1641,"logp":6.3,"set":"blue"},{"pos":1641,"logp":5.4,"set":"red"},
      {"pos":1659,"logp":1.7,"set":"blue"},{"pos":1659,"logp":1.2,"set":"blue"},{"pos":1659,"logp":0.7,"set":"blue"},{"pos":1659,"logp":0.2,"set":"blue"},{"pos":1659,"logp":-0.1,"set":"black"},{"pos":1669,"logp":1.8,"set":"blue"},{"pos":1669,"logp":1.1,"set":"blue"},{"pos":1677,"logp":0.1,"set":"blue"},{"pos":1677,"logp":-0.2,"set":"blue"},{"pos":1681,"logp":1.2,"set":"red"},{"pos":1681,"logp":0.7,"set":"blue"},
      {"pos":1717,"logp":3.3,"set":"black"},{"pos":1717,"logp":2.6,"set":"red"},{"pos":1717,"logp":2.0,"set":"blue"},{"pos":1717,"logp":1.5,"set":"blue"},{"pos":1717,"logp":1.0,"set":"red"},{"pos":1717,"logp":0.6,"set":"blue"},{"pos":1717,"logp":0.0,"set":"black"},{"pos":1724,"logp":5.7,"set":"black"},{"pos":1724,"logp":4.8,"set":"blue"},{"pos":1724,"logp":4.3,"set":"blue"},
      {"pos":1727,"logp":1.8,"set":"blue"},{"pos":1727,"logp":1.3,"set":"red"},{"pos":1727,"logp":0.9,"set":"blue"},{"pos":1740,"logp":1.6,"set":"blue"},{"pos":1740,"logp":1.1,"set":"red"},{"pos":1740,"logp":0.5,"set":"blue"},{"pos":1746,"logp":0.1,"set":"red"},{"pos":1746,"logp":-0.2,"set":"blue"},
      {"pos":1750,"logp":4.6,"set":"black"},{"pos":1750,"logp":3.4,"set":"black"},{"pos":1750,"logp":2.6,"set":"blue"},{"pos":1750,"logp":2.0,"set":"blue"},{"pos":1754,"logp":1.3,"set":"red"},{"pos":1754,"logp":0.7,"set":"blue"},{"pos":1754,"logp":0.2,"set":"blue"},{"pos":1760,"logp":2.8,"set":"blue"},{"pos":1760,"logp":2.3,"set":"blue"},{"pos":1760,"logp":1.8,"set":"blue"},{"pos":1760,"logp":1.2,"set":"red"},{"pos":1760,"logp":0.1,"set":"blue"},
      {"pos":1770,"logp":3.4,"set":"black"},{"pos":1770,"logp":1.7,"set":"blue"}
    ]
  },
  "vconcat": [
    {
      "width": 1664,
      "height": 362,
      "layer": [
        {
          "data": {"name": "linesB"},
          "mark": {"type": "rule", "color": "#4a8cbf", "strokeWidth": 1.6},
          "encoding": {
            "x": {"field": "pos", "type": "quantitative", "scale": {"domain": [111, 1775], "nice": false, "zero": false}, "axis": null},
            "y": {"datum": -1, "type": "quantitative", "scale": {"domain": [-1, 19], "nice": false, "zero": false},
                  "axis": {"values": [0,2,4,6,8,10,12,14,16,18], "offset": -27, "domainColor": "#000", "domainWidth": 2, "tickColor": "#000", "tickSize": 5, "tickWidth": 1.5, "labelFontSize": 21, "labelColor": "#222", "labelPadding": 3,
                           "title": "-Log10(P value)", "titleFontSize": 24, "titleFontWeight": "normal", "titleColor": "#333", "titleX": -84, "titleY": 168, "titleAngle": 270, "titleAlign": "center", "titleBaseline": "middle"}},
            "y2": {"datum": 19}
          }
        },
        {
          "data": {"name": "one"},
          "mark": {"type": "rule", "color": "#000", "strokeWidth": 2},
          "encoding": {"x": {"datum": 138}, "x2": {"datum": 1770}, "y": {"datum": -1}}
        },
        {
          "data": {"name": "one"},
          "mark": {"type": "rule", "color": "#e0504a", "strokeWidth": 1.5, "strokeDash": [9, 7]},
          "encoding": {"x": {"datum": 138}, "x2": {"datum": 1770}, "y": {"datum": 6.67}}
        },
        {
          "data": {"name": "one"},
          "mark": {"type": "rule", "color": "#444", "strokeWidth": 2.2, "strokeDash": [12, 7]},
          "encoding": {"x": {"datum": 138}, "x2": {"datum": 1770}, "y": {"datum": 3.45}}
        },
        {
          "data": {"name": "ptsB"},
          "mark": {"type": "circle", "size": 44, "opacity": 1},
          "encoding": {
            "x": {"field": "pos", "type": "quantitative"},
            "y": {"field": "logp", "type": "quantitative"},
            "color": {"field": "set", "type": "nominal", "scale": {"domain": ["black", "blue", "red"], "range": ["#000000", "#1a1ae6", "#ee1c1c"]}, "legend": null}
          }
        },
        {
          "data": {"name": "labB"},
          "transform": [{"filter": {"field": "tier", "equal": "upper"}}],
          "mark": {"type": "text", "fontSize": 20, "color": "#333", "baseline": "middle", "align": "center"},
          "encoding": {"x": {"field": "pos", "type": "quantitative"}, "y": {"datum": 21.2}, "text": {"field": "chr"}}
        },
        {
          "data": {"name": "labB"},
          "transform": [{"filter": {"field": "tier", "equal": "lower"}}],
          "mark": {"type": "text", "fontSize": 20, "color": "#333", "baseline": "middle", "align": "center"},
          "encoding": {"x": {"field": "pos", "type": "quantitative"}, "y": {"datum": 20.0}, "text": {"field": "chr"}}
        },
        {
          "data": {"name": "one"},
          "mark": {"type": "text", "text": "b", "fontSize": 22, "fontWeight": "bold", "color": "#222", "baseline": "middle", "align": "center"},
          "encoding": {"x": {"datum": 53.6}, "y": {"datum": 21.2}}
        }
      ]
    },
    {
      "width": 1664,
      "height": 371,
      "layer": [
        {
          "data": {"name": "linesC"},
          "mark": {"type": "rule", "color": "#4a8cbf", "strokeWidth": 1.6},
          "encoding": {
            "x": {"field": "pos", "type": "quantitative", "scale": {"domain": [111, 1775], "nice": false, "zero": false}, "axis": null},
            "y": {"datum": -1.2, "type": "quantitative", "scale": {"domain": [-1.2, 26.1], "nice": false, "zero": false},
                  "axis": {"values": [0,2,4,6,8,10,12,14,16,18,20,22,24,26], "labels": false, "domainColor": "#000", "domainWidth": 2, "tickColor": "#000", "tickSize": 5, "tickWidth": 1.5,
                           "title": "-Log10(P value)", "titleFontSize": 24, "titleFontWeight": "normal", "titleColor": "#333", "titleX": -79, "titleY": 188, "titleAngle": 270, "titleAlign": "center", "titleBaseline": "middle"}},
            "y2": {"datum": 26.1}
          }
        },
        {
          "data": {"name": "ticksC"},
          "mark": {"type": "text", "fontSize": 20, "color": "#222", "align": "right", "baseline": "middle"},
          "encoding": {"x": {"datum": 103}, "y": {"field": "v", "type": "quantitative"}, "text": {"field": "v", "type": "quantitative"}}
        },
        {
          "data": {"name": "one"},
          "mark": {"type": "rule", "color": "#000", "strokeWidth": 2},
          "encoding": {"x": {"datum": 111}, "x2": {"datum": 1775}, "y": {"datum": -1.2}}
        },
        {
          "data": {"name": "one"},
          "mark": {"type": "rule", "color": "#e0504a", "strokeWidth": 1.5, "strokeDash": [9, 7]},
          "encoding": {"x": {"datum": 111}, "x2": {"datum": 1775}, "y": {"datum": 6.47}}
        },
        {
          "data": {"name": "one"},
          "mark": {"type": "rule", "color": "#444", "strokeWidth": 2.2, "strokeDash": [12, 7]},
          "encoding": {"x": {"datum": 111}, "x2": {"datum": 1775}, "y": {"datum": 3.32}}
        },
        {
          "data": {"name": "ptsC"},
          "mark": {"type": "circle", "size": 44, "opacity": 1},
          "encoding": {
            "x": {"field": "pos", "type": "quantitative"},
            "y": {"field": "logp", "type": "quantitative"},
            "color": {"field": "set", "type": "nominal", "scale": {"domain": ["black", "blue", "red"], "range": ["#000000", "#1a1ae6", "#ee1c1c"]}, "legend": null}
          }
        },
        {
          "data": {"name": "labC"},
          "transform": [{"filter": {"field": "tier", "equal": "upper"}}],
          "mark": {"type": "text", "fontSize": 20, "color": "#333", "baseline": "middle", "align": "center"},
          "encoding": {"x": {"field": "pos", "type": "quantitative"}, "y": {"datum": 28.87}, "text": {"field": "chr"}}
        },
        {
          "data": {"name": "labC"},
          "transform": [{"filter": {"field": "tier", "equal": "lower"}}],
          "mark": {"type": "text", "fontSize": 20, "color": "#333", "baseline": "middle", "align": "center"},
          "encoding": {"x": {"field": "pos", "type": "quantitative"}, "y": {"datum": 27.28}, "text": {"field": "chr"}}
        },
        {
          "data": {"name": "one"},
          "mark": {"type": "text", "text": "c", "fontSize": 22, "fontWeight": "bold", "color": "#222", "baseline": "middle", "align": "center"},
          "encoding": {"x": {"datum": 30.6}, "y": {"datum": 28.9}}
        },
        {
          "data": {"name": "one"},
          "mark": {"type": "text", "text": "PARK8", "fontSize": 13, "fontWeight": "bold", "color": "#333", "baseline": "middle", "align": "center"},
          "encoding": {"x": {"datum": 1379.7}, "y": {"datum": 9.69}}
        }
      ]
    }
  ]
}
